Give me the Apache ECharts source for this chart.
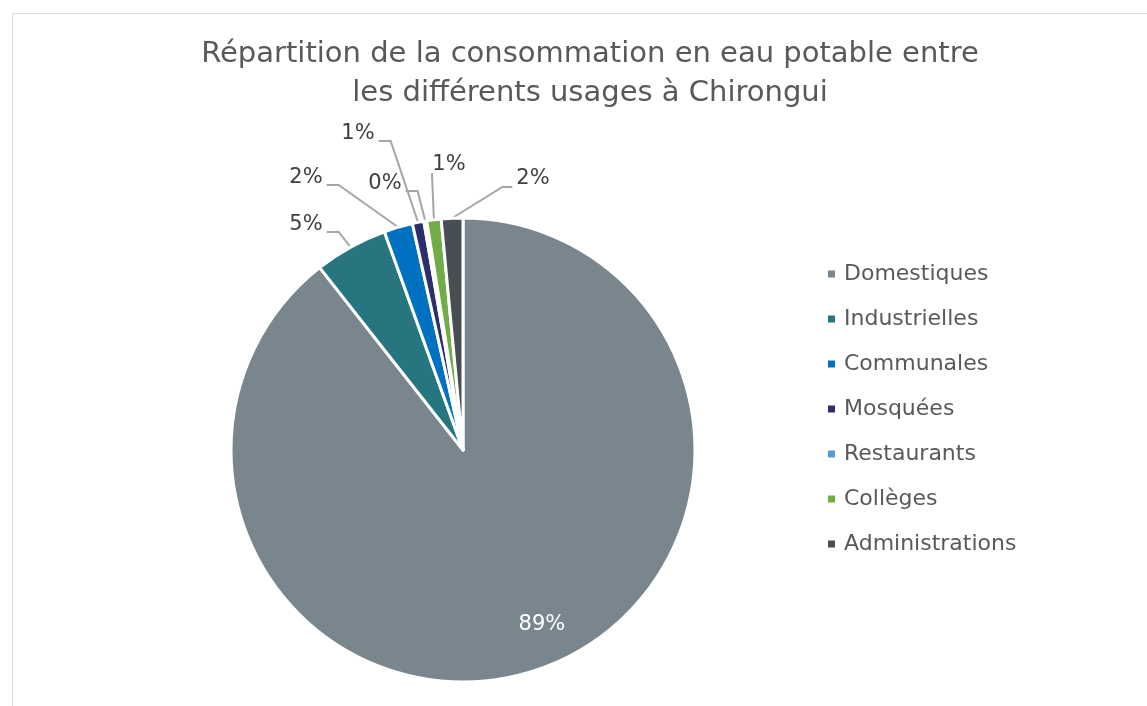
<!DOCTYPE html>
<html><head><meta charset="utf-8">
<script src="https://cdn.jsdelivr.net/npm/echarts@6/dist/echarts.min.js"></script>
<style>html,body{margin:0;padding:0;background:#fff}#c{width:1147px;height:706px}</style>
</head><body><div id="c"></div>
<script>
const categories = ['Domestiques','Industrielles','Communales','Mosquées','Restaurants','Collèges','Administrations'];
const values = [89.4, 5.1, 2.0, 0.8, 0.2, 1.0, 1.5];
const colors = ['#7a868d','#27757f','#0070c0','#2c2f6b','#5b9bd5','#70ad47','#474e54'];
const titleText = 'Répartition de la consommation en eau potable entre\nles différents usages à Chirongui';

// label anchor (text centre) for each slice; null = inside label
const labelAnchors = [null,[306,225],[306,178],[358,134],[385,184],[449,165],[533,179]];
// side where the leader line leaves the label: 'r' right, 'b' bottom, 'l' left
const leaderSide = [null,'r','r','r','r','b','l'];

const FONT = 'DejaVu Sans';
const chart = echarts.init(document.getElementById('c'));
const data = categories.map((n,i)=>{
  const d = {name:n, value:values[i], itemStyle:{color:colors[i]}};
  if (i===0) { d.label = {position:'inside', color:'#fff', offset:[40,62]}; d.labelLine = {show:false}; }
  return d;
});
chart.setOption({
  animation:false,
  title:{text:titleText,left:585,top:30,textAlign:'center',
    textStyle:{fontFamily:FONT,fontWeight:'normal',fontSize:29,color:'#595959',lineHeight:39}},
  graphic:[{type:'rect',shape:{x:12.5,y:13.5,width:1200,height:800},style:{fill:'none',stroke:'#d9d9d9',lineWidth:1},silent:true}],
  legend:{orient:'vertical',left:826,top:263,padding:0,itemWidth:9,itemHeight:9,itemGap:23,icon:'rect',
    textStyle:{fontFamily:FONT,fontWeight:'normal',fontSize:22,color:'#595959',padding:[0,0,0,3]}},
  series:[{
    type:'pie',center:[463,450],radius:232,startAngle:90,clockwise:true,
    percentPrecision:1,avoidLabelOverlap:false,
    itemStyle:{borderColor:'#fff',borderWidth:3},
    label:{show:true,position:'outside',fontFamily:FONT,fontWeight:'normal',fontSize:21,color:'#404040',
      formatter:p=>Math.round(p.percent)+'%'},
    labelLine:{show:true,length:10,length2:10,lineStyle:{color:'#a6a6a6',width:2}},
    data:data,
    labelLayout:function(p){
      const a = labelAnchors[p.dataIndex];
      if (!a) return {};
      const w = p.labelRect.width;
      const s = p.labelLinePoints ? p.labelLinePoints[0] : null;
      let pts;
      const side = leaderSide[p.dataIndex];
      if (s) {
        if (side==='r') { const ex=a[0]+w/2+4, ey=a[1]+7; pts=[[s[0],s[1]],[ex+12,ey],[ex,ey]]; }
        else if (side==='l') { const ex=a[0]-w/2-4, ey=a[1]+8; pts=[[s[0],s[1]],[ex-10,ey],[ex,ey]]; }
        else { const ex=a[0]-17, ey=a[1]+8; pts=[[s[0],s[1]],[ex,ey+2],[ex,ey]]; }
      }
      return {x:a[0],y:a[1],align:'center',verticalAlign:'middle',labelLinePoints:pts};
    }
  }]
});
</script></body></html>
